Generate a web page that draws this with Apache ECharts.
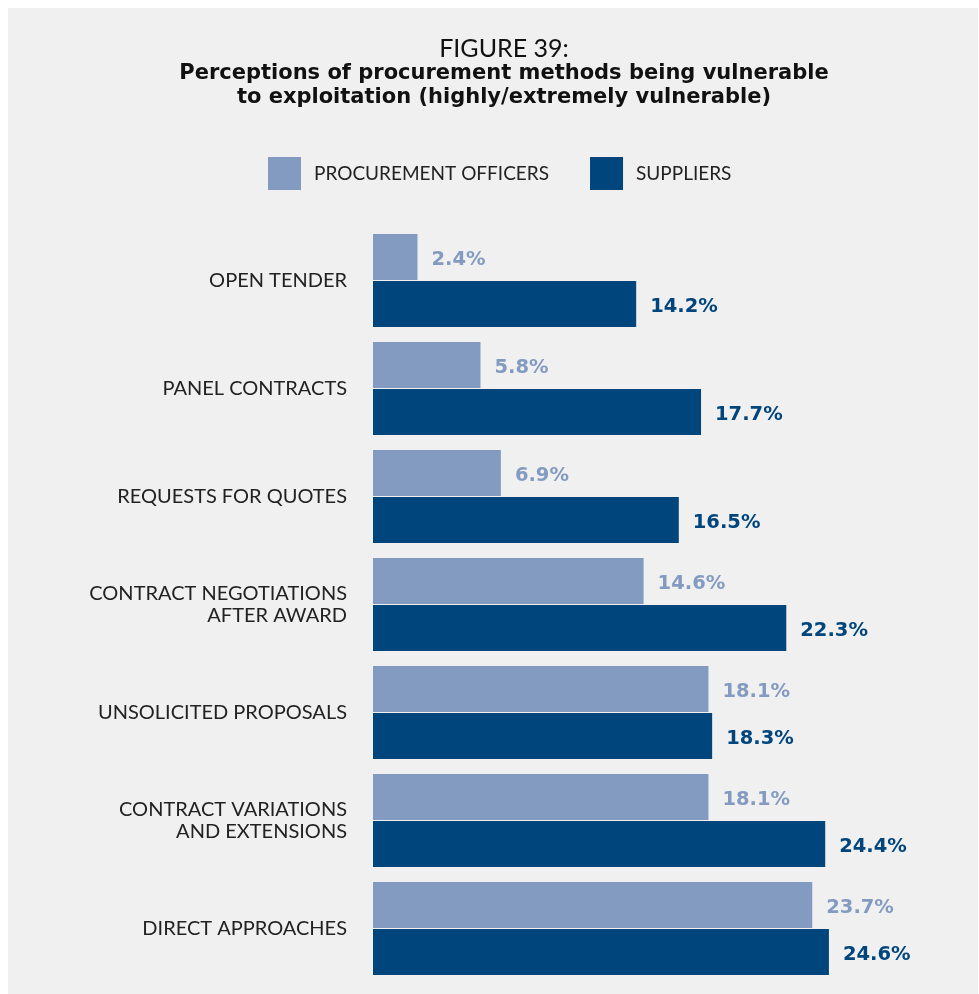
<!DOCTYPE html>
<html><head><meta charset="utf-8">
<script src="https://cdn.jsdelivr.net/npm/echarts@6/dist/echarts.min.js"></script>
<style>
html,body{margin:0;padding:0;background:#fff;}
#c{position:absolute;left:8px;top:8px;width:970px;height:986px;background:#f0f0f0;}
</style></head>
<body><div id="c"></div>
<script>
const categories = ['OPEN TENDER','PANEL CONTRACTS','REQUESTS FOR QUOTES','CONTRACT NEGOTIATIONS\nAFTER AWARD','UNSOLICITED PROPOSALS','CONTRACT VARIATIONS\nAND EXTENSIONS','DIRECT APPROACHES'];
const officers = [2.4, 5.8, 6.9, 14.6, 18.1, 18.1, 23.7];
const suppliers = [14.2, 17.7, 16.5, 22.3, 18.3, 24.4, 24.6];
const seriesNames = ['PROCUREMENT OFFICERS','SUPPLIERS'];
const FONT = 'Lato';
const BOLD = 'DejaVu Sans';
const LIGHT = '#839bc1', DARK = '#00457c';
const chart = echarts.init(document.getElementById('c'));
chart.setOption({
  backgroundColor: '#f0f0f0',
  textStyle: {fontFamily: FONT},
  title: [{
    text: 'FIGURE 39:',
    left: 491, top: 23, textAlign: 'center',
    textStyle: {fontFamily: FONT, fontWeight: 'normal', fontSize: 25, color: '#111'}
  },{
    text: 'Perceptions of procurement methods being vulnerable\nto exploitation (highly/extremely vulnerable)',
    left: 491, top: 49, textAlign: 'center',
    textStyle: {fontFamily: BOLD, fontWeight: 'bold', fontSize: 21, lineHeight: 24, color: '#111'}
  }],
  legend: {
    data: seriesNames,
    left: 255, top: 144,
    itemWidth: 33, itemHeight: 33, itemGap: 41,
    icon: 'rect',
    textStyle: {fontFamily: FONT, fontSize: 19, color: '#222', padding: [0,0,0,8]}
  },
  grid: {left: 365, top: 218.5, width: 556, height: 756},
  xAxis: {type: 'value', min: 0, max: 30, show: false},
  yAxis: {
    type: 'category', data: categories, inverse: true,
    axisLine: {show: false}, axisTick: {show: false},
    axisLabel: {fontFamily: FONT, fontSize: 20, color: '#222', margin: 26, lineHeight: 22, align: 'right'}
  },
  series: [{
    name: seriesNames[0], type: 'bar', data: officers, barWidth: 46, barGap: '2%',
    itemStyle: {color: LIGHT},
    label: {show: true, position: 'right', distance: 14, formatter: '{c}%', fontFamily: BOLD, fontWeight: 'bold', fontSize: 19.5, color: LIGHT, offset: [0, 3]}
  },{
    name: seriesNames[1], type: 'bar', data: suppliers, barWidth: 46,
    itemStyle: {color: DARK},
    label: {show: true, position: 'right', distance: 14, formatter: '{c}%', fontFamily: BOLD, fontWeight: 'bold', fontSize: 19.5, color: DARK, offset: [0, 3]}
  }]
});
</script></body></html>
